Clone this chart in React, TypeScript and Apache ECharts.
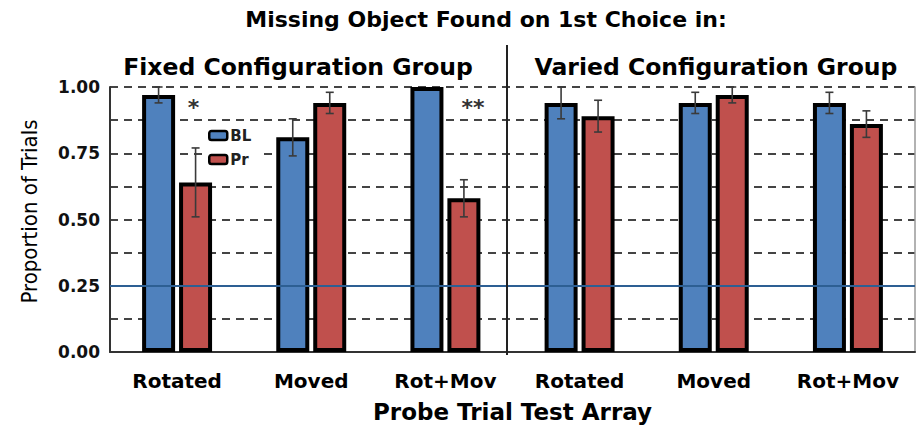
import React, { useEffect, useRef } from "react";
import * as echarts from "echarts";

const categories = ["Rotated", "Moved", "Rot+Mov", "Rotated", "Moved", "Rot+Mov"];
const blValues = [0.97, 0.81, 1.0, 0.94, 0.94, 0.94];
const prValues = [0.64, 0.94, 0.58, 0.89, 0.97, 0.86];
const blErrors = [0.03, 0.07, 0.0, 0.06, 0.04, 0.04];
const prErrors = [0.13, 0.04, 0.07, 0.06, 0.03, 0.05];
const yTicks = [0, 0.25, 0.5, 0.75, 1.0];
const chanceLevel = 0.25;
const groupLabels = ["Fixed Configuration Group", "Varied Configuration Group"];
const significance = [
  { index: 0, value: 0.945, text: "*" },
  { index: 2, value: 0.945, text: "**" },
];

const BLUE = "#4f81bd";
const RED = "#c0504d";
const BAR_W = 33;
const HALF = 18.5;
const FONT = "DejaVu Sans";

export default function App() {
  const ref = useRef<HTMLDivElement>(null);
  useEffect(() => {
    if (!ref.current) return;
    const chart = echarts.init(ref.current, null, { renderer: "svg" });
    const errData = (vals: number[], errs: number[]) =>
      vals.map((v, i) => [i, v - errs[i], v + errs[i]]);
    const errSeries = (name: string, vals: number[], errs: number[], off: number) => ({
      type: "custom",
      name: name + "-err",
      z: 5,
      silent: true,
      data: errData(vals, errs).filter((d) => d[2] - d[1] > 0.001),
      renderItem: (params: any, api: any) => {
        const i = api.value(0);
        const lo = api.coord([i, api.value(1)]);
        const hi = api.coord([i, api.value(2)]);
        const x = lo[0] + off;
        const cap = 4;
        const style = { stroke: "#3a3a3a", lineWidth: 1.6 };
        return {
          type: "group",
          children: [
            { type: "line", shape: { x1: x, y1: lo[1], x2: x, y2: hi[1] }, style },
            { type: "line", shape: { x1: x - cap, y1: lo[1], x2: x + cap, y2: lo[1] }, style },
            { type: "line", shape: { x1: x - cap, y1: hi[1], x2: x + cap, y2: hi[1] }, style },
          ],
        };
      },
    });
    chart.setOption({
      animation: false,
      title: [
        {
          text: "Missing Object Found on 1st Choice in:",
          left: 486,
          top: 8,
          padding: 0,
          textAlign: "center",
          textStyle: { fontFamily: FONT, fontWeight: "bold", fontSize: 22, color: "#000" },
        },
        {
          text: groupLabels[0],
          left: 298,
          top: 55,
          padding: 0,
          textAlign: "center",
          textStyle: { fontFamily: FONT, fontWeight: "bold", fontSize: 23.5, color: "#000" },
        },
        {
          text: groupLabels[1],
          left: 716,
          top: 55,
          padding: 0,
          textAlign: "center",
          textStyle: { fontFamily: FONT, fontWeight: "bold", fontSize: 23.5, color: "#000" },
        },
      ],
      legend: {
        orient: "vertical",
        left: 202,
        top: 124,
        padding: [4, 8, 4, 6],
        backgroundColor: "#fff",
        itemWidth: 18,
        itemHeight: 9,
        itemGap: 9,
        icon: "roundRect",
        data: ["BL", "Pr"],
        itemStyle: { borderColor: "#000", borderWidth: 2.5 },
        textStyle: { fontFamily: FONT, fontWeight: "bold", fontSize: 15, color: "#222", padding: [0, 0, 0, -2] },
      },
      grid: { left: 110, right: 6, top: 87, bottom: 69 },
      xAxis: {
        type: "category",
        data: categories,
        axisTick: { show: false },
        axisLine: { lineStyle: { color: "#333", width: 2 } },
        axisLabel: {
          margin: 19,
          fontFamily: FONT,
          fontWeight: "bold",
          fontSize: 20,
          color: "#000",
          interval: 0,
        },
        name: "Probe Trial Test Array",
        nameLocation: "middle",
        nameGap: 48,
        nameTextStyle: { fontFamily: FONT, fontWeight: "bold", fontSize: 23, color: "#000" },
      },
      yAxis: [
        {
          type: "value",
          min: 0,
          max: 1,
          interval: 0.125,
          axisLine: { show: true, lineStyle: { color: "#333", width: 2 } },
          axisTick: { show: false },
          axisLabel: {
            margin: 10,
            fontFamily: FONT,
            fontWeight: "bold",
            fontSize: 17,
            color: "#111",
            formatter: (v: number) =>
              yTicks.some((t) => Math.abs(t - v) < 1e-6) ? v.toFixed(2) : "",
          },
          splitLine: {
            show: true,
            lineStyle: { color: "#444", width: 2, type: [8, 6] },
          },
          name: "Proportion of Trials",
          nameLocation: "middle",
          nameGap: 70,
          nameTextStyle: {
            fontFamily: "Liberation Sans Narrow, DejaVu Sans Condensed, sans-serif",
            fontSize: 22,
            color: "#000",
            padding: [0, 0, 0, 16],
          },
        },
        {
          type: "value",
          min: 0,
          max: 1,
          interval: 0.125,
          position: "right",
          axisLine: { show: true, lineStyle: { color: "#999", width: 1.5 } },
          axisTick: { show: false },
          axisLabel: { show: false },
          splitLine: { show: false },
        },
      ],
      series: [
        {
          type: "bar",
          name: "BL",
          data: blValues,
          barWidth: BAR_W,
          barGap: "12%",
          barCategoryGap: "47%",
          itemStyle: { color: BLUE, borderColor: "#000", borderWidth: 4 },
          z: 3,
        },
        {
          type: "bar",
          name: "Pr",
          data: prValues,
          barWidth: BAR_W,
          barGap: "12%",
          itemStyle: { color: RED, borderColor: "#000", borderWidth: 4 },
          z: 3,
          markPoint: {
            symbol: "circle",
            symbolSize: 1,
            silent: true,
            itemStyle: { color: "rgba(0,0,0,0)" },
            data: significance.map((s) => ({
              coord: [s.index, s.value],
              value: s.text,
              label: {
                show: true,
                position: "inside",
                formatter: s.text,
                offset: [s.text.length > 1 ? 9 : -2, 6],
                fontFamily: FONT,
                fontWeight: "bold",
                fontSize: 22,
                color: "#333",
              },
            })),
          },
        },
        errSeries("BL", blValues, blErrors, -HALF),
        {
          ...errSeries("Pr", prValues, prErrors, HALF),
          markLine: {
            silent: true,
            symbol: "none",
            z: 10,
            label: { show: false },
            lineStyle: { color: "#2d5f93", width: 2, type: "solid" },
            data: [{ yAxis: chanceLevel }],
          },
        },
      ],
      graphic: [
        {
          type: "line",
          z: 20,
          shape: { x1: 507, y1: 45, x2: 507, y2: 355 },
          style: { stroke: "#222", lineWidth: 2 },
        },
      ],
    });
    return () => chart.dispose();
  }, []);
  return (
    <div
      ref={ref}
      style={{ position: "absolute", left: 0, top: 0, width: 921, height: 428 }}
    />
  );
}
